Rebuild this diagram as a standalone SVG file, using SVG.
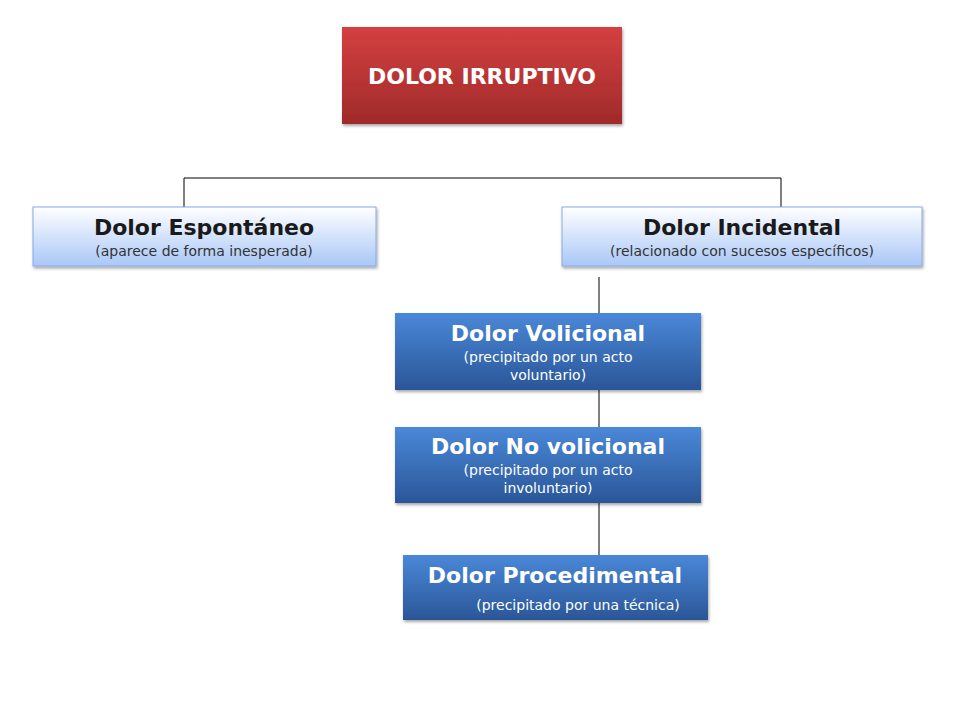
<svg xmlns="http://www.w3.org/2000/svg" width="960" height="720" viewBox="0 0 960 720">
<defs>
<linearGradient id="red" x1="0" y1="0" x2="0" y2="1"><stop offset="0" stop-color="#d44040"/><stop offset="1" stop-color="#a02a2a"/></linearGradient>
<linearGradient id="light" x1="0" y1="0" x2="0" y2="1"><stop offset="0" stop-color="#ffffff"/><stop offset="1" stop-color="#a9c7f7"/></linearGradient>
<linearGradient id="blue" x1="0" y1="0" x2="0" y2="1"><stop offset="0" stop-color="#4a88d8"/><stop offset="1" stop-color="#2a5698"/></linearGradient>
<filter id="sh" x="-10%" y="-10%" width="120%" height="130%"><feDropShadow dx="1" dy="2" stdDeviation="1.5" flood-opacity="0.35"/></filter>
</defs>
<style>
text{font-family:"DejaVu Sans","Verdana",sans-serif;text-anchor:middle}
.t{font-weight:bold;font-size:22px}
.s{font-size:14px}
.w{fill:#fff}
.d{fill:#1a1a1a}
.g{fill:#333}
.line{stroke:#000;stroke-width:1;fill:none}
</style>
<rect width="960" height="720" fill="#fff"/>
<g id="connectors">
<path class="line" d="M184 207V178H781V207"/>
<path class="line" d="M599 277V313M599 373V428M599 487V555"/>
</g>
<g id="n-irruptivo"><rect x="342" y="27" width="280" height="97" fill="url(#red)" filter="url(#sh)"/><text class="t w" x="482" y="84" font-size="21">DOLOR IRRUPTIVO</text></g>
<g id="n-espontaneo"><rect x="33" y="207" width="343" height="59" fill="url(#light)" stroke="#88aae6" filter="url(#sh)"/><text class="t d" x="204" y="235">Dolor Espontáneo</text><text class="s g" x="204" y="256">(aparece de forma inesperada)</text></g>
<g id="n-incidental"><rect x="562" y="207" width="360" height="59" fill="url(#light)" stroke="#88aae6" filter="url(#sh)"/><text class="t d" x="742" y="235">Dolor Incidental</text><text class="s g" x="742" y="256">(relacionado con sucesos específicos)</text></g>
<g id="n-volicional"><rect x="395" y="313" width="306" height="77" fill="url(#blue)" filter="url(#sh)"/><text class="t w" x="548" y="341">Dolor Volicional</text><text class="s w" x="548" y="362">(precipitado por un acto</text><text class="s w" x="548" y="380">voluntario)</text></g>
<g id="n-novolicional"><rect x="395" y="427" width="306" height="76" fill="url(#blue)" filter="url(#sh)"/><text class="t w" x="548" y="454">Dolor No volicional</text><text class="s w" x="548" y="475">(precipitado por un acto</text><text class="s w" x="548" y="493">involuntario)</text></g>
<g id="n-procedimental"><rect x="403" y="555" width="305" height="65" fill="url(#blue)" filter="url(#sh)"/><text class="t w" x="555" y="583">Dolor Procedimental</text><text class="s w" x="578" y="610">(precipitado por una técnica)</text></g>
</svg>
